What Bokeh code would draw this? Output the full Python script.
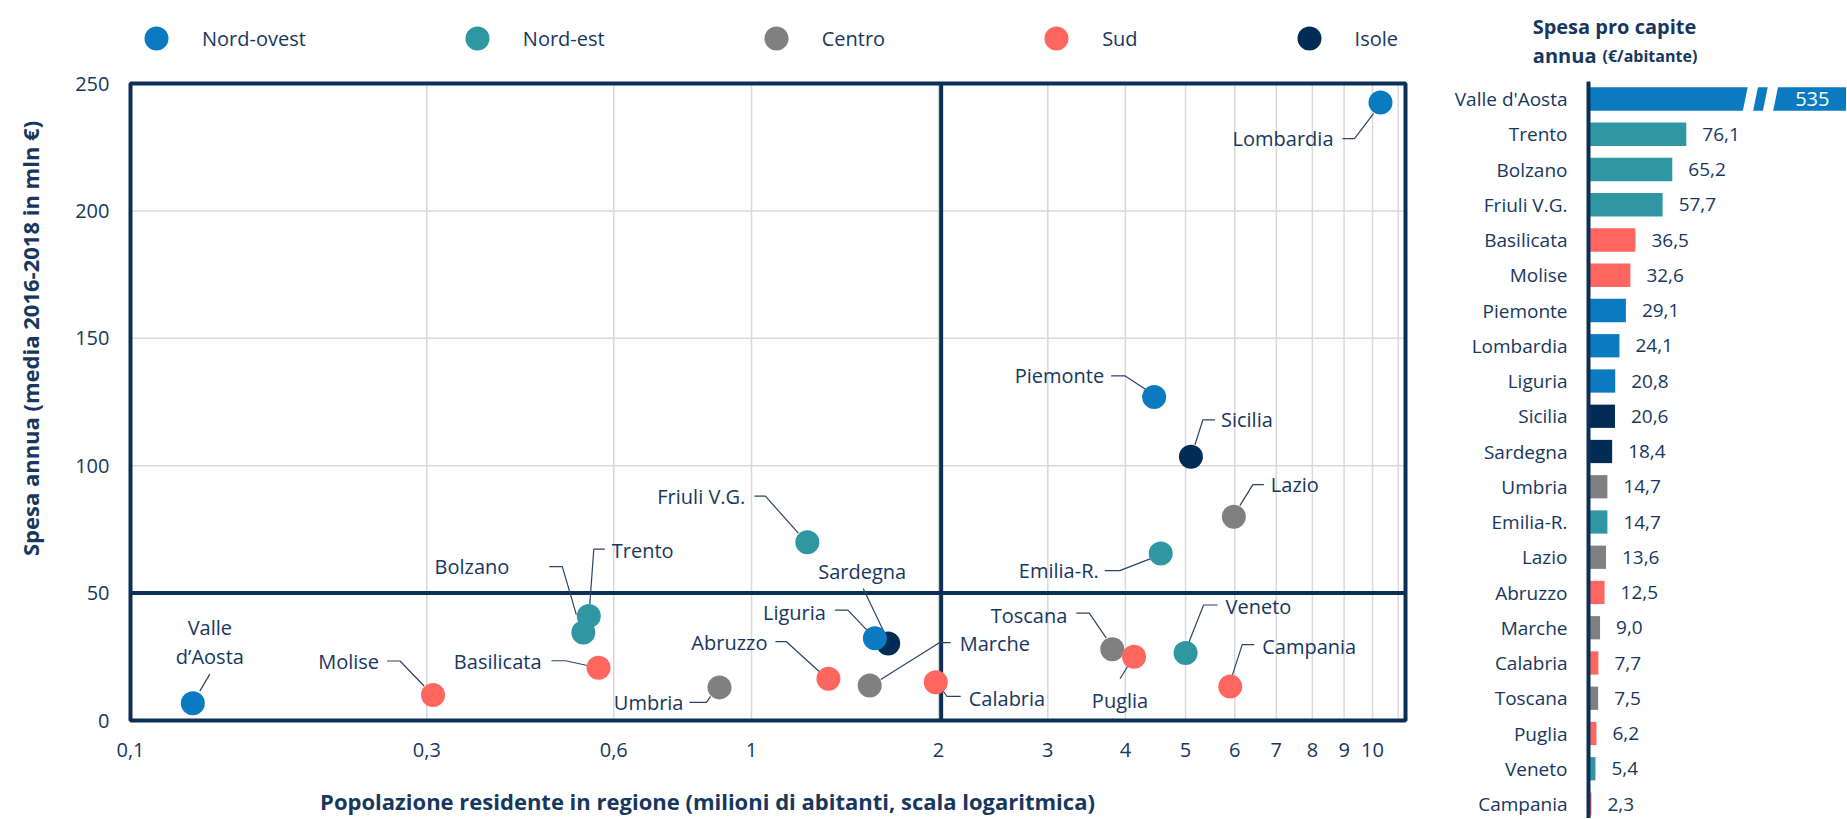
import math
from bokeh.plotting import figure
from bokeh.models import (ColumnDataSource, Range1d, FixedTicker, Label,
                          Legend, LegendItem)
from bokeh.layouts import row
from bokeh.embed import file_html
from bokeh.resources import INLINE
from bokeh.core.properties import value

# ---------------- data ----------------
regions = ["Valle d'Aosta", "Molise", "Basilicata", "Bolzano", "Trento", "Umbria",
           "Friuli V.G.", "Abruzzo", "Marche", "Liguria", "Sardegna", "Calabria",
           "Toscana", "Puglia", "Piemonte", "Emilia-R.", "Veneto", "Sicilia",
           "Lazio", "Campania", "Lombardia"]
macro_area = ["Nord-ovest", "Sud", "Sud", "Nord-est", "Nord-est", "Centro",
              "Nord-est", "Sud", "Centro", "Nord-ovest", "Isole", "Sud",
              "Centro", "Sud", "Nord-ovest", "Nord-est", "Nord-est", "Isole",
              "Centro", "Sud", "Nord-ovest"]
popolazione = [0.126, 0.307, 0.567, 0.536, 0.547, 0.888, 1.23, 1.33, 1.55, 1.58,
               1.66, 1.98, 3.81, 4.13, 4.45, 4.56, 5.0, 5.1, 5.98, 5.9, 10.3]
spesa_annua = [6.8, 10.0, 20.7, 34.5, 41.0, 13.0, 70.0, 16.4, 13.7, 32.3,
               30.2, 15.0, 28.0, 25.0, 127.0, 65.5, 26.5, 103.5, 80.0, 13.3, 242.5]
scatter_labels = ["Valle\nd\u2019Aosta", "Molise", "Basilicata", "Bolzano", "Trento",
                  "Umbria", "Friuli V.G.", "Abruzzo", "Marche", "Liguria", "Sardegna",
                  "Calabria", "Toscana", "Puglia", "Piemonte", "Emilia-R.", "Veneto",
                  "Sicilia", "Lazio", "Campania", "Lombardia"]

areas = ["Nord-ovest", "Nord-est", "Centro", "Sud", "Isole"]

x_ticks = [0.1, 0.3, 0.6, 1, 2, 3, 4, 5, 6, 7, 8, 9, 10, 11]
x_tick_labels = ["0,1", "0,3", "0,6", "1", "2", "3", "4", "5", "6", "7", "8", "9", "10", ""]
y_ticks = [0, 50, 100, 150, 200, 250]
soglia_pop = 2.02
soglia_spesa = 50

x_title = "Popolazione residente in regione (milioni di abitanti, scala logaritmica)"
y_title = "Spesa annua (media 2016-2018 in mln \u20ac)"

bar_regions = ["Valle d'Aosta", "Trento", "Bolzano", "Friuli V.G.", "Basilicata", "Molise",
               "Piemonte", "Lombardia", "Liguria", "Sicilia", "Sardegna", "Umbria",
               "Emilia-R.", "Lazio", "Abruzzo", "Marche", "Calabria", "Toscana",
               "Puglia", "Veneto", "Campania"]
spesa_pro_capite = [535, 76.1, 65.2, 57.7, 36.5, 32.6, 29.1, 24.1, 20.8, 20.6, 18.4,
                    14.7, 14.7, 13.6, 12.5, 9.0, 7.7, 7.5, 6.2, 5.4, 2.3]
bar_area = ["Nord-ovest", "Nord-est", "Nord-est", "Nord-est", "Sud", "Sud",
            "Nord-ovest", "Nord-ovest", "Nord-ovest", "Isole", "Isole", "Centro",
            "Nord-est", "Centro", "Sud", "Centro", "Sud", "Centro", "Sud",
            "Nord-est", "Sud"]
bar_title_1 = "Spesa pro capite"
bar_title_2a = "annua"
bar_title_2b = "(\u20ac/abitante)"

# ---------------- style ----------------
COLORS = {"Nord-ovest": "#0b7bc1", "Nord-est": "#2e97a2", "Centro": "#808080",
          "Sud": "#ff6660", "Isole": "#012c55"}
NAVY = "#0c2f55"
TEXT = "#17375e"
GRID = "#d9d9d9"
FONT = "Open Sans"

# label layout: (align, dx, dy, leader path) in screen px relative to the dot
label_layout = {
    "Valle d'Aosta": ("center", 17, -61, [(7, -12), (17, -29)]),
    "Molise": ("right", -54, -34, [(-46, -34), (-33, -34), (-9, -9)]),
    "Basilicata": ("right", -57, -6, [(-47, -7), (-33, -7), (-10, -2)]),
    "Bolzano": ("right", -74, -66, [(-34, -66), (-21, -66), (-7, -18)]),
    "Trento": ("left", 23, -66, [(1, -12), (5, -67), (16, -67)]),
    "Umbria": ("right", -36, 15, [(-30, 15), (-13, 15), (-9, 9)]),
    "Friuli V.G.": ("right", -62, -46, [(-53, -46), (-42, -46), (-9, -9)]),
    "Abruzzo": ("right", -61, -36, [(-53, -37), (-42, -37), (-9, -7)]),
    "Marche": ("left", 90, -42, [(11, -6), (70, -43), (81, -43)]),
    "Liguria": ("right", -49, -26, [(-40, -28), (-27, -28), (-8, -8)]),
    "Sardegna": ("center", -26, -72, [(-25, -55), (-4, -11)]),
    "Calabria": ("left", 33, 16, [(7, 8), (11, 14), (25, 14)]),
    "Toscana": ("right", -45, -34, [(-36, -36), (-23, -36), (-6, -11)]),
    "Puglia": ("center", -14, 44, [(-6, 9), (-14, 22)]),
    "Piemonte": ("right", -50, -21, [(-43, -21), (-29, -21), (-6, -6)]),
    "Emilia-R.": ("right", -62, 17, [(-56, 17), (-41, 17), (-10, 5)]),
    "Veneto": ("left", 40, -46, [(3, -10), (18, -48), (32, -48)]),
    "Sicilia": ("left", 30, -37, [(4, -12), (12, -37), (24, -37)]),
    "Lazio": ("left", 37, -32, [(6, -11), (19, -32), (30, -32)]),
    "Campania": ("left", 32, -40, [(2, -11), (12, -42), (24, -42)]),
    "Lombardia": ("right", -47, 36, [(-38, 36), (-26, 36), (-7, 11)]),
}

# ---------------- left: scatter ----------------
W_TOTAL, H = 1846, 818
W1 = 1420
BOX_L, BOX_R, BOX_T, BOX_B = 130, 1405, 83, 720      # chart box, px in the figure
X0, X1 = 0.1, 11.3
Y0, Y1 = 0, 250
PPD = (BOX_R - BOX_L) / math.log10(X1 / X0)
PPY = (BOX_B - BOX_T) / (Y1 - Y0)
XS = X0 * 10 ** (-BOX_L / PPD)
XE = X0 * 10 ** ((W1 - BOX_L) / PPD)
YS = Y0 - (H - BOX_B) / PPY
YE = Y1 + BOX_T / PPY

p = figure(width=W1, height=H, x_axis_type="log",
           x_range=Range1d(XS, XE), y_range=Range1d(YS, YE),
           output_backend="svg", toolbar_location=None, min_border=0)
p.outline_line_color = None
p.background_fill_color = "white"
p.border_fill_color = "white"
p.grid.visible = False

p.xaxis.fixed_location = Y0
p.yaxis.fixed_location = X0
p.xaxis.ticker = FixedTicker(ticks=x_ticks)
p.xaxis.major_label_overrides = {t: l for t, l in zip(x_ticks, x_tick_labels)}
p.yaxis.ticker = FixedTicker(ticks=y_ticks)
for ax in (p.xaxis[0], p.yaxis[0]):
    ax.axis_line_color = None
    ax.major_tick_line_color = None
    ax.minor_tick_line_color = None
    ax.major_label_text_font = FONT
    ax.major_label_text_font_size = "20px"
    ax.major_label_text_color = TEXT
p.xaxis.major_label_standoff = 16
p.yaxis.major_label_standoff = 15

# grid lines at the tick values, inside the chart box
gx = [t for t in x_ticks if X0 < t < X1]
gy = [t for t in y_ticks if Y0 < t < Y1]
p.segment(x0=gx, y0=[Y0] * len(gx), x1=gx, y1=[Y1] * len(gx), line_color=GRID, line_width=1.5)
p.segment(x0=[X0] * len(gy), y0=gy, x1=[X1] * len(gy), y1=gy, line_color=GRID, line_width=1.5)
# quadrant lines and box
p.segment(x0=[soglia_pop, X0], y0=[Y0, soglia_spesa], x1=[soglia_pop, X1],
          y1=[Y1, soglia_spesa], line_color=NAVY, line_width=4)
p.quad(left=[X0], right=[X1], bottom=[Y0], top=[Y1], fill_color=None,
       line_color=NAVY, line_width=4)

# leader lines
lx, ly = [], []
for r, x0, y0 in zip(regions, popolazione, spesa_annua):
    path = label_layout[r][3]
    lx.append([x0 * 10 ** (dx / PPD) for dx, dy in path])
    ly.append([y0 - dy / PPY for dx, dy in path])
p.multi_line(lx, ly, line_color="#2a4466", line_width=1.2)

# points, drawn per area
draw_order = ["Isole", "Centro", "Nord-est", "Sud", "Nord-ovest"]
rmap = {}
for a in draw_order:
    idx = [i for i, m in enumerate(macro_area) if m == a]
    src = ColumnDataSource(dict(x=[popolazione[i] for i in idx],
                                y=[spesa_annua[i] for i in idx]))
    rmap[a] = p.scatter("x", "y", source=src, size=24, marker="circle",
                        fill_color=COLORS[a], line_color=COLORS[a], line_width=0)

# data labels
for align in ("left", "right", "center"):
    idx = [i for i, r in enumerate(regions) if label_layout[r][0] == align]
    src = ColumnDataSource(dict(x=[popolazione[i] for i in idx],
                                y=[spesa_annua[i] for i in idx],
                                t=[scatter_labels[i] for i in idx],
                                dx=[label_layout[regions[i]][1] for i in idx],
                                dy=[label_layout[regions[i]][2] for i in idx]))
    p.text("x", "y", text="t", source=src, x_offset="dx", y_offset="dy",
           text_align=align, text_baseline="middle", text_font=value(FONT),
           text_font_size="20px", text_color=TEXT, text_line_height=1.07)

legend = Legend(items=[LegendItem(label=a, renderers=[rmap[a]]) for a in areas],
                orientation="horizontal", location=(126, H - 8 - 60),
                glyph_width=60, glyph_height=60, label_standoff=16, spacing=141,
                padding=0, margin=0, border_line_alpha=0, background_fill_alpha=0,
                label_text_font=FONT, label_text_font_size="20px",
                label_text_color=TEXT)
p.add_layout(legend)

p.add_layout(Label(x=X0 * 10 ** ((707 - BOX_L) / PPD), y=Y0 - (800 - BOX_B) / PPY,
                   text=x_title, text_align="center", text_baseline="middle",
                   text_font=FONT, text_font_size="22px", text_font_style="bold",
                   text_color=TEXT))
p.add_layout(Label(x=X0 * 10 ** ((29 - BOX_L) / PPD), y=Y0 + (BOX_B - 338) / PPY,
                   text=y_title, angle=math.pi / 2, text_align="center",
                   text_baseline="middle", text_font=FONT, text_font_size="22px",
                   text_font_style="bold", text_color=TEXT))

# ---------------- right: bars ----------------
W2 = W_TOTAL - W1
AX2 = 168            # px of the bar baseline inside the right figure
ROW = 35.25
ROW0 = 98.5
n = len(bar_regions)
y_top = (0 - ROW0) / ROW
y_bot = (H - ROW0) / ROW
PPU = 1.285
XS2 = -AX2 / PPU
XE2 = (W2 - AX2) / PPU

q = figure(width=W2, height=H, x_range=Range1d(XS2, XE2), y_range=Range1d(y_bot, y_top),
           output_backend="svg", toolbar_location=None, x_axis_location=None, min_border=0)
q.outline_line_color = None
q.grid.visible = False
ys = list(range(n))
q.yaxis.fixed_location = 0
q.yaxis.ticker = FixedTicker(ticks=ys)
q.yaxis.bounds = (-0.5, y_bot)
q.yaxis.major_label_overrides = {i: r for i, r in zip(ys, bar_regions)}
q.yaxis.axis_line_color = NAVY
q.yaxis.axis_line_width = 4
q.yaxis.major_tick_line_color = None
q.yaxis.minor_tick_line_color = None
q.yaxis.major_label_standoff = 15
q.yaxis.major_label_text_font = FONT
q.yaxis.major_label_text_font_size = "19px"
q.yaxis.major_label_text_color = TEXT

bsrc = ColumnDataSource(dict(y=ys, v=spesa_pro_capite,
                             c=[COLORS[a] for a in bar_area]))
q.hbar(y="y", left=0, right="v", height=0.66, fill_color="c", line_color=None, source=bsrc)

# break marks on the out-of-scale bar
BREAKS = [126.0, 141.6]
SW, SL, HH = 8.0, 4.7, 0.42
big = [i for i, v in enumerate(spesa_pro_capite) if v > XE2]
bx, by = [], []
for i in big:
    for c in BREAKS:
        bx.append([c - SW / 2 - SL / 2, c + SW / 2 - SL / 2, c + SW / 2 + SL / 2, c - SW / 2 + SL / 2])
        by.append([i + HH, i + HH, i - HH, i - HH])
q.patches(bx, by, fill_color="white", line_color=None)

fmt = lambda v: (f"{v:.0f}" if v >= 100 else f"{v:.1f}".replace(".", ","))
small = [i for i, v in enumerate(spesa_pro_capite) if v <= XE2]
vsrc = ColumnDataSource(dict(x=[spesa_pro_capite[i] for i in small], y=[ys[i] for i in small],
                             t=[fmt(spesa_pro_capite[i]) for i in small]))
q.text("x", "y", text="t", source=vsrc, x_offset=16, text_align="left",
       text_baseline="middle", text_font=value(FONT), text_font_size="19px", text_color=TEXT)
isrc = ColumnDataSource(dict(x=[187.5] * len(big), y=[ys[i] for i in big],
                             t=[fmt(spesa_pro_capite[i]) for i in big]))
q.text("x", "y", text="t", source=isrc, text_align="right", text_baseline="middle",
       text_font=value(FONT), text_font_size="20px", text_color="white")

# panel title, above the first row
q.text(x=[20.2], y=[(26 - ROW0) / ROW], text=[bar_title_1], text_align="center",
       text_baseline="alphabetic", text_font=value(FONT), text_font_size="20px",
       text_font_style="bold", text_color=TEXT)
q.text(x=[6.2], y=[(55 - ROW0) / ROW], text=[bar_title_2a], text_align="right",
       text_baseline="alphabetic", text_font=value(FONT), text_font_size="20px",
       text_font_style="bold", text_color=TEXT)
q.text(x=[10.9], y=[(55 - ROW0) / ROW], text=[bar_title_2b], text_align="left",
       text_baseline="alphabetic", text_font=value(FONT), text_font_size="16px",
       text_font_style="bold", text_color=TEXT)

layout = row(p, q)
open("out.html", "w").write(file_html(layout, INLINE))
